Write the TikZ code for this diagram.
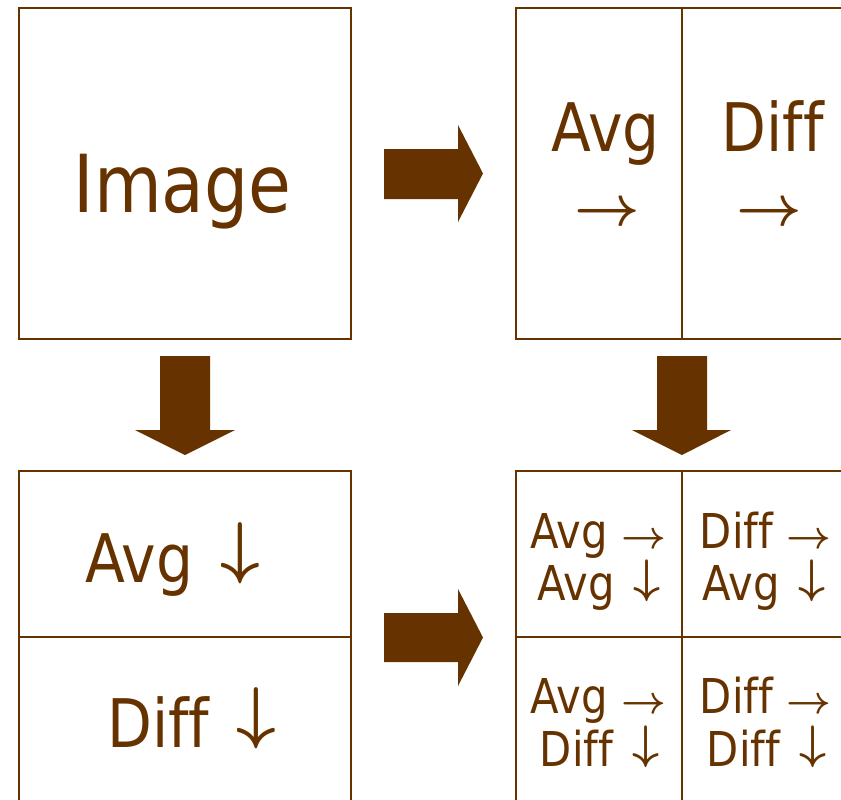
\RequirePackage{fix-cm}
\documentclass[tikz,border=0pt]{standalone}
\usepackage{fontspec}
\setmainfont{DejaVu Sans}[FakeStretch=0.87, Ligatures=CommonOff]
\definecolor{umber}{RGB}{102,51,0}

% arrows taken from the bold math font, at a given size
\newcommand\harr[1]{{\fontsize{#1}{#1}\selectfont\boldmath$\rightarrow$}}
\newcommand\varr[1]{{\fontsize{#1}{#1}\selectfont\hspace{0.12em}\boldmath\raisebox{0.17em}{$\downarrow$}}}

\tikzset{
  cell/.style={draw=umber, line width=2pt, inner sep=0pt},
  label/.style={text=umber, inner sep=0pt, anchor=base},
  big/.style={label, font=\fontsize{80}{80}\selectfont},
  mid/.style={label, font=\fontsize{67}{67}\selectfont},
  small/.style={label, font=\fontsize{48}{48}\selectfont},
  blockarrow/.style={fill=umber, draw=none},
}

\begin{document}
\begin{tikzpicture}[x=1pt, y=-1pt]
  \useasboundingbox (0,0) rectangle (841,800);

  % source image
  \node[cell, minimum width=332pt, minimum height=331pt] (img) at (185,173.5) {};
  \node[big] (imgtxt) at (182.5,212) {Image};

  % horizontal pass: average / difference columns
  \node[cell, minimum width=166pt, minimum height=331pt] (hA) at (599,173.5) {};
  \node[cell, minimum width=166pt, minimum height=331pt] (hD) at (765,173.5) {};
  \node[mid] (hAtxt) at (605.5,151) {Avg};
  \node[mid] (hDtxt) at (772.5,151) {Diff};
  \node[text=umber, inner sep=0pt] (hAarr) at (607.5,214) {\harr{57}};
  \node[text=umber, inner sep=0pt] (hDarr) at (769.5,214) {\harr{57}};

  % vertical pass: average / difference rows
  \node[cell, minimum width=332pt, minimum height=166pt] (vA) at (185,554) {};
  \node[cell, minimum width=332pt, minimum height=166pt] (vD) at (185,720) {};
  \node[mid] (vAtxt) at (172.5,582) {Avg \varr{69}};
  \node[mid] (vDtxt) at (191.5,747) {Diff \varr{69}};

  % both passes: four sub-bands
  \node[cell, minimum width=166pt, minimum height=166pt] (q1) at (599,554) {};
  \node[cell, minimum width=166pt, minimum height=166pt] (q2) at (765,554) {};
  \node[cell, minimum width=166pt, minimum height=166pt] (q3) at (599,720) {};
  \node[cell, minimum width=166pt, minimum height=166pt] (q4) at (765,720) {};

  \node[small] (q1a) at (598.5,548) {Avg \harr{39}};
  \node[small] (q1b) at (599,600) {Avg \varr{47}};
  \node[small] (q2a) at (765.5,548) {Diff \harr{39}};
  \node[small] (q2b) at (764,600) {Avg \varr{47}};
  \node[small] (q3a) at (598.5,713) {Avg \harr{39}};
  \node[small] (q3b) at (599.5,766) {Diff \varr{47}};
  \node[small] (q4a) at (765.5,713) {Diff \harr{39}};
  \node[small] (q4b) at (766.5,766) {Diff \varr{47}};

  % block arrows between the stages
  \fill[blockarrow] (384,149) -- (458,149) -- (458,125) -- (483,173.5)
        -- (458,222) -- (458,199) -- (384,199) -- cycle;
  \fill[blockarrow] (384,613) -- (458,613) -- (458,589) -- (483,637.5)
        -- (458,686) -- (458,662) -- (384,662) -- cycle;
  \fill[blockarrow] (160,356) -- (210,356) -- (210,430) -- (235,430)
        -- (185,455) -- (135,430) -- (160,430) -- cycle;
  \fill[blockarrow] (657,356) -- (707,356) -- (707,430) -- (731,430)
        -- (682,455) -- (632,430) -- (657,430) -- cycle;
\end{tikzpicture}
\end{document}
